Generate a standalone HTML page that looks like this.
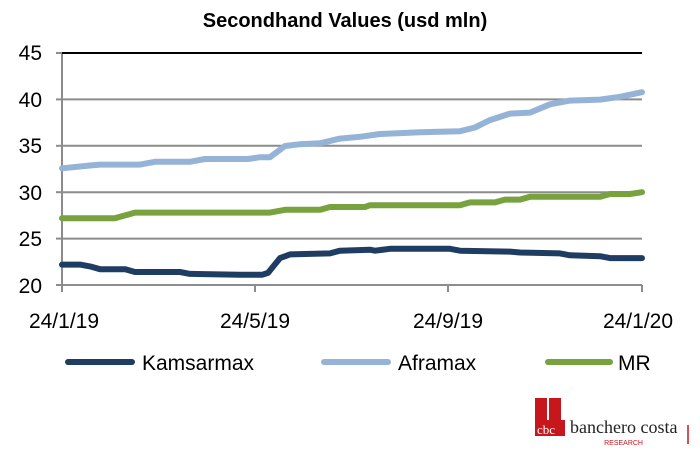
<!DOCTYPE html>
<html><head><meta charset="utf-8"><style>
body{margin:0;background:#fff;width:700px;height:458px;overflow:hidden;font-family:"Liberation Sans",sans-serif}
</style></head><body>
<svg width="700" height="458" xmlns="http://www.w3.org/2000/svg" font-family="Liberation Sans, sans-serif">
<text x="345" y="27" text-anchor="middle" font-size="20" font-weight="bold" fill="#000">Secondhand Values (usd mln)</text>
<g stroke="#8c8c8c" stroke-width="2">
<line x1="62" y1="99.4" x2="642" y2="99.4"/><line x1="62" y1="145.8" x2="642" y2="145.8"/>
<line x1="62" y1="192.2" x2="642" y2="192.2"/><line x1="62" y1="238.6" x2="642" y2="238.6"/>
<line x1="62" y1="53" x2="62" y2="292"/><line x1="56" y1="285" x2="642" y2="285"/>
<line x1="56" y1="53" x2="62" y2="53"/><line x1="56" y1="99.4" x2="62" y2="99.4"/><line x1="56" y1="145.8" x2="62" y2="145.8"/><line x1="56" y1="192.2" x2="62" y2="192.2"/><line x1="56" y1="238.6" x2="62" y2="238.6"/>
<line x1="255" y1="285" x2="255" y2="292"/><line x1="448" y1="285" x2="448" y2="292"/><line x1="642" y1="285" x2="642" y2="292"/>
</g>
<line x1="62" y1="53" x2="642" y2="53" stroke="#000" stroke-width="2"/>
<g font-size="21" fill="#000" text-anchor="end">
<text x="42" y="60">45</text><text x="42" y="107">40</text><text x="42" y="153">35</text><text x="42" y="200">30</text><text x="42" y="246">25</text><text x="42" y="293">20</text>
</g>
<g font-size="21" fill="#000" text-anchor="middle">
<text x="64" y="328">24/1/19</text><text x="255" y="328">24/5/19</text><text x="448" y="328">24/9/19</text><text x="638" y="328">24/1/20</text>
</g>
<g fill="none" stroke-width="6" stroke-linejoin="round" stroke-linecap="round">
<polyline stroke="#95b3d7" points="62,168.3 90,165.5 100,164.6 140,164.6 155,161.8 190,161.8 205,159 248,159 260,157.2 270,157.2 285,146 300,144.2 320,143.3 340,138.6 360,136.8 380,134 420,132.2 460,131.2 475,127.5 490,120.1 510,113.6 530,112.6 550,104.3 570,100.6 600,99.6 620,96.8 642,92.2"/>
<polyline stroke="#77a23d" points="62,218.2 115,218.2 135,212.6 270,212.6 285,209.8 320,209.8 330,207 365,207 370,205.2 460,205.2 470,202.4 495,202.4 505,199.6 520,199.6 530,196.8 600,196.8 610,194 630,194 642,192.2"/>
<polyline stroke="#1f3d63" points="62,264.6 80,264.6 90,266.4 100,269.2 125,269.2 135,272 180,272 190,273.9 240,274.8 262,274.8 268,272.9 280,258.1 290,254.4 330,253.4 340,250.7 370,249.7 375,250.7 390,248.8 450,248.8 460,250.7 510,251.6 520,252.5 560,253.4 570,255.3 600,256.2 610,258.1 642,258.1"/>
</g>
<g stroke-width="6" stroke-linecap="round">
<line x1="68" y1="362" x2="132" y2="362" stroke="#1f3d63"/>
<line x1="324" y1="362" x2="388" y2="362" stroke="#95b3d7"/>
<line x1="548" y1="362" x2="610" y2="362" stroke="#77a23d"/>
</g>
<g font-size="21" fill="#000">
<text x="142" y="370">Kamsarmax</text><text x="398" y="370">Aframax</text><text x="618" y="370">MR</text>
</g>
<rect x="535" y="398" width="12" height="38" fill="#c8161d"/>
<rect x="549" y="398" width="12" height="38" fill="#c8161d"/>
<rect x="535" y="420" width="30" height="16" fill="#c8161d"/>
<text x="537" y="434" font-size="13" fill="#fff" font-family="Liberation Serif, serif">cbc</text>
<text x="570" y="433" font-size="18" fill="#222" font-family="Liberation Serif, serif">banchero costa</text>
<text x="643" y="445" font-size="7" fill="#c8161d" text-anchor="end">RESEARCH</text>
<line x1="688" y1="425" x2="688" y2="444" stroke="#c8161d" stroke-width="1.5"/>
</svg>
</body></html>
